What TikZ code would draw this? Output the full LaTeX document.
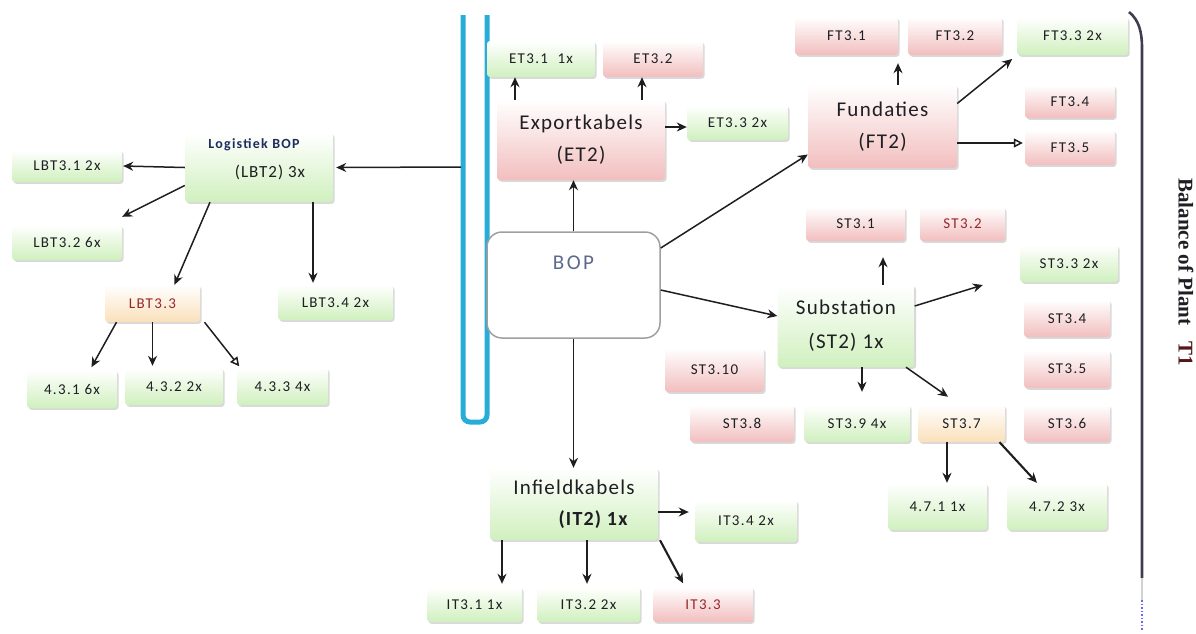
\documentclass[tikz,border=0pt]{standalone}
\usepackage{fontspec}
\setmainfont{Carlito}
\newfontfamily\smallfont[LetterSpace=9]{Carlito}
\newfontfamily\bigfont[LetterSpace=6]{Carlito}
\newfontfamily\bopfont[LetterSpace=12]{Carlito}
\newfontfamily\titlefont{Liberation Serif}
\usetikzlibrary{arrows.meta,shadows}
\definecolor{pinkB}{RGB}{242,190,190}
\definecolor{greenB}{RGB}{208,240,190}
\definecolor{orangeB}{RGB}{250,224,186}
\definecolor{barblue}{RGB}{40,172,216}
\definecolor{bracketc}{RGB}{62,62,80}
\definecolor{txtc}{RGB}{30,30,35}
\definecolor{redtxt}{RGB}{150,40,45}
\definecolor{navytxt}{RGB}{30,45,95}
\definecolor{boptxt}{RGB}{95,105,140}
\definecolor{arrc}{RGB}{30,30,30}
\begin{document}
\begin{tikzpicture}[x=1pt,y=-1pt,
  box/.style={rounded corners=3pt, inner sep=0pt, text=txtc,
    font=\smallfont\fontsize{15}{17}\selectfont,
    drop shadow={shadow xshift=1.6pt, shadow yshift=-1.8pt, opacity=0.3, fill=gray}},
  pinkbox/.style={box, top color=white, middle color=white!75!pinkB, bottom color=pinkB},
  greenbox/.style={box, top color=white, middle color=white!75!greenB, bottom color=greenB},
  orangebox/.style={box, top color=white, middle color=white!75!orangeB, bottom color=orangeB},
  bigbox/.style={align=center, font=\bigfont\fontsize{21}{24}\selectfont},
  arr/.style={draw=arrc, line width=1.5pt, -{Stealth[length=10pt,width=9pt]}},
  thickarr/.style={arr, line width=2.1pt},
  openarr/.style={draw=arrc, line width=1.5pt, -{Triangle[open,length=9pt,width=9pt]}},
]
\useasboundingbox (0,0) rectangle (1196,633);

% blue bar and right bracket
\draw[barblue, line width=5pt, rounded corners=7pt] (463,15) -- (463,422) -- (487,422) -- (487,15);
\draw[bracketc, line width=2.6pt] (1129,12) .. controls (1139,20) and (1142,32) .. (1142,48) -- (1142,578);
\draw[gray!35, line width=2.6pt] (1142,578) -- (1142,600);
\draw[blue!60, dotted, line width=1.5pt] (1142,600) -- (1142,630);
\node[rotate=-90, text=txtc, font=\titlefont\bfseries\fontsize{21}{21}\selectfont] (title) at (1186,272)
  {Balance of Plant\hspace{16pt}\textcolor{redtxt!55!black}{T1}};

% BOP
\node[draw=gray!75, line width=1.5pt, rounded corners=15pt, fill=white,
  minimum width=173pt, minimum height=106pt] (bop) at (573.5,285) {};
\node[font=\bopfont\fontsize{21}{24}\selectfont, text=boptxt] (boptext) at (573.5,263) {BOP};

% Export
\node[pinkbox, bigbox, minimum width=168pt, minimum height=80pt] (et2) at (581,140) {Exportkabels\\[8pt](ET2)};
\node[greenbox, minimum width=108pt, minimum height=36pt] (et31) at (541,59) {ET3.1\ \ 1x};
\node[pinkbox, minimum width=100pt, minimum height=36pt] (et32) at (653,59) {ET3.2};
\node[greenbox, minimum width=101pt, minimum height=35pt] (et33) at (737.5,122.5) {ET3.3 2x};

% Fundaties
\node[pinkbox, bigbox, minimum width=149pt, minimum height=83pt] (ft2) at (882.5,126.5) {Fundaties\\[8pt](FT2)};
\node[pinkbox, minimum width=103pt, minimum height=38pt] (ft31) at (846.5,36) {FT3.1};
\node[pinkbox, minimum width=94pt, minimum height=38pt] (ft32) at (955,36) {FT3.2};
\node[greenbox, minimum width=111pt, minimum height=38pt] (ft33) at (1072.5,36) {FT3.3 2x};
\node[pinkbox, minimum width=90pt, minimum height=33pt] (ft34) at (1070,101.5) {FT3.4};
\node[pinkbox, minimum width=90pt, minimum height=35pt] (ft35) at (1070,147.5) {FT3.5};

% Logistiek
\node[greenbox, minimum width=148pt, minimum height=69pt] (lbt2) at (259,167.5) {};
\node[text=navytxt, font=\smallfont\bfseries\fontsize{14}{16}\selectfont] (lbt2a) at (254,145) {Logistiek BOP};
\node[text=txtc, font=\bigfont\fontsize{17}{20}\selectfont] (lbt2b) at (270,172) {(LBT2) 3x};
\node[greenbox, minimum width=110pt, minimum height=32pt] (lbt31) at (67,166) {LBT3.1 2x};
\node[greenbox, minimum width=110pt, minimum height=35pt] (lbt32) at (67,242.5) {LBT3.2 6x};
\node[orangebox, text=redtxt, minimum width=95pt, minimum height=37pt] (lbt33) at (152.5,303.5) {LBT3.3};
\node[greenbox, minimum width=115pt, minimum height=35pt] (lbt34) at (335.5,302.5) {LBT3.4 2x};
\node[greenbox, minimum width=90pt, minimum height=38pt] (n431) at (72,389) {4.3.1 6x};
\node[greenbox, minimum width=98pt, minimum height=37pt] (n432) at (174,386.5) {4.3.2 2x};
\node[greenbox, minimum width=91pt, minimum height=37pt] (n433) at (282.5,386.5) {4.3.3 4x};

% Substation
\node[greenbox, bigbox, minimum width=137pt, minimum height=82pt] (st2) at (846,326) {Substation\\[10pt](ST2) 1x};
\node[pinkbox, minimum width=99pt, minimum height=34pt] (st31) at (855.5,224) {ST3.1};
\node[pinkbox, text=redtxt, minimum width=85pt, minimum height=34pt] (st32) at (962.5,224) {ST3.2};
\node[greenbox, minimum width=98pt, minimum height=37pt] (st33) at (1069,263.5) {ST3.3 2x};
\node[pinkbox, minimum width=86pt, minimum height=37pt] (st34) at (1067,318.5) {ST3.4};
\node[pinkbox, minimum width=86pt, minimum height=38pt] (st35) at (1067,369) {ST3.5};
\node[pinkbox, minimum width=86pt, minimum height=37pt] (st36) at (1067,423.5) {ST3.6};
\node[pinkbox, minimum width=99pt, minimum height=44pt] (st310) at (714.5,370) {ST3.10};
\node[pinkbox, minimum width=104pt, minimum height=37pt] (st38) at (742,423.5) {ST3.8};
\node[greenbox, minimum width=106pt, minimum height=37pt] (st39) at (857,423.5) {ST3.9 4x};
\node[orangebox, minimum width=87pt, minimum height=37pt] (st37) at (961.5,423.5) {ST3.7};
\node[greenbox, minimum width=99pt, minimum height=47pt] (n471) at (937.5,506.5) {4.7.1 1x};
\node[greenbox, minimum width=100pt, minimum height=47pt] (n472) at (1057,506.5) {4.7.2 3x};

% Infield
\node[greenbox, minimum width=168pt, minimum height=72pt] (it2) at (574,504) {};
\node[text=txtc, font=\bigfont\fontsize{21}{24}\selectfont] (it2a) at (574,487) {Infieldkabels};
\node[text=txtc, font=\bigfont\bfseries\fontsize{20}{24}\selectfont] (it2b) at (593,520) {(IT2) 1x};
\node[greenbox, minimum width=102pt, minimum height=42pt] (it34) at (746,521) {IT3.4 2x};
\node[greenbox, minimum width=95pt, minimum height=35pt] (it31) at (474.5,604.5) {IT3.1 1x};
\node[greenbox, minimum width=103pt, minimum height=35pt] (it32) at (588.5,604.5) {IT3.2 2x};
\node[pinkbox, text=redtxt, minimum width=100pt, minimum height=35pt] (it33) at (703,604.5) {IT3.3};

% connector end points
\coordinate (barL) at (461,167);
\coordinate (et2r) at ([yshift=13pt]et2.east);
\coordinate (ft2r) at ([yshift=-16.5pt]ft2.east);
\coordinate (it2r) at ([yshift=-8pt]it2.east);

% connectors
\draw[arr] (barL) -- ([xshift=3pt]lbt2.east);
\draw[arr] (bop.north) -- (bop.north |- et2.south);
\draw[arr] (bop.south) -- (bop.south |- it2.north);
\draw[arr] ([yshift=37pt]bop.east) -- ([yshift=-28pt]ft2.west);
\draw[arr] ([yshift=-5pt]bop.east) -- ([yshift=10pt]st2.west);

\draw[arr] ([xshift=-66pt]et2.north) -- ([xshift=-66pt]et2.north |- et31.south);
\draw[arr] ([xshift=61pt]et2.north) -- ([xshift=61pt]et2.north |- et32.south);
\draw[arr] (et2r) -- (et33.west |- et2r);

\draw[arr, shorten >=8pt] ([xshift=15.5pt]ft2.north) -- ([xshift=15.5pt]ft2.north |- ft32.south);
\draw[arr, shorten >=6pt] ([yshift=23pt]ft2.east) -- (ft33.south west);
\draw[openarr, shorten >=2pt] (ft2r) -- (ft35.west |- ft2r);

\draw[arr] (lbt2.west) -- ([xshift=1pt]lbt31.east);
\draw[arr] ([yshift=-18pt]lbt2.west) -- ([yshift=8pt]lbt32.north east);
\draw[arr] ([xshift=-49pt]lbt2.south) -- ([xshift=22pt]lbt33.north);
\draw[arr, shorten >=2pt] ([xshift=54pt]lbt2.south) -- ([xshift=54pt]lbt2.south |- lbt34.north);
\draw[arr, shorten >=3pt] ([xshift=-36pt]lbt33.south) -- ([xshift=18pt]n431.north);
\draw[arr, shorten >=2pt] (lbt33.south) -- (lbt33.south |- n432.north);
\draw[openarr, shorten >=2pt] ([xshift=52pt]lbt33.south) -- ([xshift=-42pt]n433.north);

\draw[arr, shorten >=16pt] ([xshift=37pt]st2.north) -- ([xshift=37pt]st2.north |- st31.south);
\draw[arr] ([yshift=20pt]st2.east) -- ([shift={(-37pt,-21.5pt)}]st33.west);
\draw[arr, shorten >=13pt] ([xshift=16pt]st2.south) -- ([xshift=16pt]st2.south |- st39.north);
\draw[arr, shorten >=14pt] ([xshift=60pt]st2.south) -- ([xshift=-2pt]st37.north);
\draw[thickarr] ([xshift=-14.5pt]st37.south) -- ([xshift=-14.5pt]st37.south |- n471.north);
\draw[thickarr] ([xshift=38pt]st37.south) -- ([xshift=-20pt]n472.north);

\draw[thickarr, shorten >=3pt] ([xshift=-72pt]it2.south) -- ([xshift=-72pt]it2.south |- it31.north);
\draw[thickarr, shorten >=3pt] ([xshift=13pt]it2.south) -- ([xshift=13pt]it2.south |- it32.north);
\draw[thickarr, shorten >=4pt] ([xshift=86pt]it2.south) -- ([xshift=-18pt]it33.north);
\draw[arr, shorten >=6pt] (it2r) -- (it34.west |- it2r);
\end{tikzpicture}
\end{document}
